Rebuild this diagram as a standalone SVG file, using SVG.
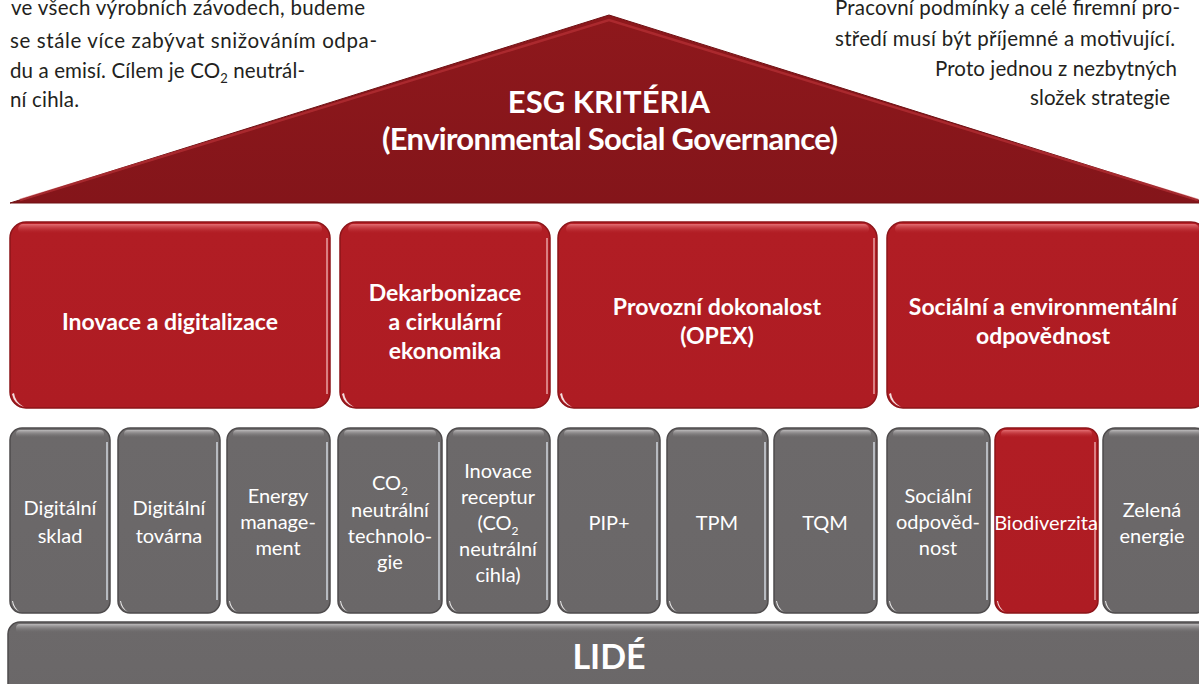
<svg xmlns="http://www.w3.org/2000/svg" width="1199" height="684" viewBox="0 0 1199 684">
<defs>
<linearGradient id="roofG" x1="0" y1="0" x2="0" y2="1">
<stop offset="0" stop-color="#8e181c"/>
<stop offset="1" stop-color="#84151a"/>
</linearGradient>
<linearGradient id="redG" x1="0" y1="0" x2="0" y2="1">
<stop offset="0" stop-color="#b92228"/>
<stop offset="0.05" stop-color="#b11d24"/>
<stop offset="1" stop-color="#ae1c23"/>
</linearGradient>
<linearGradient id="grayG" x1="0" y1="0" x2="0" y2="1">
<stop offset="0" stop-color="#747172"/>
<stop offset="0.05" stop-color="#6c696a"/>
<stop offset="1" stop-color="#6a6768"/>
</linearGradient>
<linearGradient id="redTop" x1="0" y1="0" x2="0" y2="1">
<stop offset="0" stop-color="#e8777b" stop-opacity="0.9"/>
<stop offset="1" stop-color="#b11d24" stop-opacity="0"/>
</linearGradient>
<linearGradient id="grayTop" x1="0" y1="0" x2="0" y2="1">
<stop offset="0" stop-color="#c4c2c3" stop-opacity="0.9"/>
<stop offset="1" stop-color="#6c696a" stop-opacity="0"/>
</linearGradient>
</defs>
<style>
.para{font-family:Lato,"Open Sans",sans-serif;font-size:20.5px;fill:#231f20}
.roof{font-family:Lato,"Open Sans",sans-serif;font-weight:bold;font-size:31px;fill:#fff;text-anchor:middle}
.cat{font-family:Lato,"Open Sans",sans-serif;font-weight:bold;font-size:23px;fill:#fff;text-anchor:middle}
.lbl{font-family:Lato,"Open Sans",sans-serif;font-size:20px;fill:#fff;text-anchor:middle}
.base{font-family:Lato,"Open Sans",sans-serif;font-weight:bold;font-size:34px;fill:#fff;text-anchor:middle}
.rb{fill:url(#redG);stroke:#8c1419;stroke-width:1.5}
.gb{fill:url(#grayG);stroke:#4e4b4c;stroke-width:1.5}
.rt{fill:url(#redTop)}
.gt{fill:url(#grayTop)}
.re{stroke:#e9a0a3;stroke-width:1.5;fill:none}
.ge{stroke:#d0d6de;stroke-width:1.5;fill:none}
.sp{fill:#ffffff;opacity:0.85}
</style>

<g id="text-left">
<text class="para" x="11" y="15" textLength="354">ve všech výrobních závodech, budeme</text>
<text class="para" x="10" y="48" textLength="367">se stále více zabývat snižováním odpa-</text>
<text class="para" x="10" y="78" textLength="295">du a emisí. Cílem je CO<tspan font-size="13" dy="5">2</tspan><tspan dy="-5"> neutrál-</tspan></text>
<text class="para" x="10" y="107" textLength="69">ní cihla.</text>
</g>
<g id="text-right">
<text class="para" x="835" y="15" textLength="345">Pracovní podmínky a celé firemní pro-</text>
<text class="para" x="835" y="46" textLength="340">středí musí být příjemné a motivující.</text>
<text class="para" x="935" y="76" textLength="242">Proto jednou z nezbytných</text>
<text class="para" x="1030" y="105" textLength="140">složek strategie</text>
</g>

<g id="roof">
<polygon points="10,203 609,15 1208,203" fill="url(#roofG)" stroke="#6e1013" stroke-width="1"/>
<polyline points="20,200 609,20 1198,200" fill="none" stroke="#c4393e" stroke-width="2.5" opacity="0.55"/>
<text class="roof" x="609" y="113">ESG KRITÉRIA</text>
<text class="roof" x="610" y="150" textLength="456">(Environmental Social Governance)</text>
</g>

<g id="cat-1">
<rect class="rb" x="10" y="222" width="320" height="186" rx="16"/>
<rect class="rt" x="18" y="224" width="304" height="10" rx="5"/>
<path class="re" d="M327,238 V394"/>
<path class="sp" d="M12,394 q2,10 12,13 q-9,-5 -10,-14 z"/>
<text class="cat" x="170" y="330">Inovace a digitalizace</text>
</g>
<g id="cat-2">
<rect class="rb" x="340" y="222" width="210" height="186" rx="16"/>
<rect class="rt" x="348" y="224" width="194" height="10" rx="5"/>
<path class="re" d="M547,238 V394"/>
<path class="sp" d="M342,394 q2,10 12,13 q-9,-5 -10,-14 z"/>
<text class="cat" x="445" y="301">Dekarbonizace</text>
<text class="cat" x="445" y="330">a cirkulární</text>
<text class="cat" x="445" y="359">ekonomika</text>
</g>
<g id="cat-3">
<rect class="rb" x="558" y="222" width="319" height="186" rx="16"/>
<rect class="rt" x="566" y="224" width="303" height="10" rx="5"/>
<path class="re" d="M874,238 V394"/>
<path class="sp" d="M560,394 q2,10 12,13 q-9,-5 -10,-14 z"/>
<text class="cat" x="717" y="315">Provozní dokonalost</text>
<text class="cat" x="717" y="344">(OPEX)</text>
</g>
<g id="cat-4">
<rect class="rb" x="887" y="222" width="320" height="186" rx="16"/>
<rect class="rt" x="895" y="224" width="304" height="10" rx="5"/>
<path class="sp" d="M889,394 q2,10 12,13 q-9,-5 -10,-14 z"/>
<text class="cat" x="1043" y="315">Sociální a environmentální</text>
<text class="cat" x="1043" y="344">odpovědnost</text>
</g>

<g id="p-1">
<rect class="gb" x="10" y="428" width="100" height="185" rx="12"/>
<rect class="gt" x="16" y="430" width="88" height="8" rx="4"/>
<path class="ge" d="M107,442 V600"/>
<path class="sp" d="M12,601 q1,8 8,11 q-6,-4 -7,-11 z"/>
<text class="lbl" x="60" y="515">Digitální</text>
<text class="lbl" x="60" y="543">sklad</text>
</g>
<g id="p-2">
<rect class="gb" x="118" y="428" width="102" height="185" rx="12"/>
<rect class="gt" x="124" y="430" width="90" height="8" rx="4"/>
<path class="ge" d="M217,442 V600"/>
<path class="sp" d="M120,601 q1,8 8,11 q-6,-4 -7,-11 z"/>
<text class="lbl" x="169" y="515">Digitální</text>
<text class="lbl" x="169" y="543">továrna</text>
</g>
<g id="p-3">
<rect class="gb" x="227" y="428" width="103" height="185" rx="12"/>
<rect class="gt" x="233" y="430" width="91" height="8" rx="4"/>
<path class="ge" d="M327,442 V600"/>
<path class="sp" d="M229,601 q1,8 8,11 q-6,-4 -7,-11 z"/>
<text class="lbl" x="278" y="503">Energy</text>
<text class="lbl" x="278" y="529">manage-</text>
<text class="lbl" x="278" y="555">ment</text>
</g>
<g id="p-4">
<rect class="gb" x="338" y="428" width="104" height="185" rx="12"/>
<rect class="gt" x="344" y="430" width="92" height="8" rx="4"/>
<path class="ge" d="M439,442 V600"/>
<path class="sp" d="M340,601 q1,8 8,11 q-6,-4 -7,-11 z"/>
<text class="lbl" x="390" y="490">CO<tspan font-size="12" dy="5">2</tspan></text>
<text class="lbl" x="390" y="517">neutrální</text>
<text class="lbl" x="390" y="543">technolo-</text>
<text class="lbl" x="390" y="569">gie</text>
</g>
<g id="p-5">
<rect class="gb" x="447" y="428" width="103" height="185" rx="12"/>
<rect class="gt" x="453" y="430" width="91" height="8" rx="4"/>
<path class="ge" d="M547,442 V600"/>
<path class="sp" d="M449,601 q1,8 8,11 q-6,-4 -7,-11 z"/>
<text class="lbl" x="498" y="478">Inovace</text>
<text class="lbl" x="498" y="504">receptur</text>
<text class="lbl" x="498" y="530">(CO<tspan font-size="12" dy="5">2</tspan></text>
<text class="lbl" x="498" y="556">neutrální</text>
<text class="lbl" x="498" y="582">cihla)</text>
</g>
<g id="p-6">
<rect class="gb" x="558" y="428" width="102" height="185" rx="12"/>
<rect class="gt" x="564" y="430" width="90" height="8" rx="4"/>
<path class="ge" d="M657,442 V600"/>
<path class="sp" d="M560,601 q1,8 8,11 q-6,-4 -7,-11 z"/>
<text class="lbl" x="609" y="530">PIP+</text>
</g>
<g id="p-7">
<rect class="gb" x="667" y="428" width="101" height="185" rx="12"/>
<rect class="gt" x="673" y="430" width="89" height="8" rx="4"/>
<path class="ge" d="M765,442 V600"/>
<path class="sp" d="M669,601 q1,8 8,11 q-6,-4 -7,-11 z"/>
<text class="lbl" x="717" y="530">TPM</text>
</g>
<g id="p-8">
<rect class="gb" x="774" y="428" width="103" height="185" rx="12"/>
<rect class="gt" x="780" y="430" width="91" height="8" rx="4"/>
<path class="ge" d="M874,442 V600"/>
<path class="sp" d="M776,601 q1,8 8,11 q-6,-4 -7,-11 z"/>
<text class="lbl" x="825" y="530">TQM</text>
</g>
<g id="p-9">
<rect class="gb" x="887" y="428" width="103" height="185" rx="12"/>
<rect class="gt" x="893" y="430" width="91" height="8" rx="4"/>
<path class="ge" d="M987,442 V600"/>
<path class="sp" d="M889,601 q1,8 8,11 q-6,-4 -7,-11 z"/>
<text class="lbl" x="938" y="503">Sociální</text>
<text class="lbl" x="938" y="529">odpověd-</text>
<text class="lbl" x="938" y="555">nost</text>
</g>
<g id="p-10">
<rect class="rb" x="995" y="428" width="103" height="185" rx="12"/>
<rect class="rt" x="1001" y="430" width="91" height="8" rx="4"/>
<path class="re" d="M1095,442 V600"/>
<path class="sp" d="M997,601 q1,8 8,11 q-6,-4 -7,-11 z"/>
<text class="lbl" x="1046" y="530">Biodiverzita</text>
</g>
<g id="p-11">
<rect class="gb" x="1103" y="428" width="104" height="185" rx="12"/>
<rect class="gt" x="1109" y="430" width="92" height="8" rx="4"/>
<path class="sp" d="M1105,601 q1,8 8,11 q-6,-4 -7,-11 z"/>
<text class="lbl" x="1152" y="517">Zelená</text>
<text class="lbl" x="1152" y="543">energie</text>
</g>

<g id="base">
<rect class="gb" x="8" y="622" width="1205" height="80" rx="12"/>
<rect class="gt" x="16" y="624" width="1190" height="9" rx="4"/>
<text class="base" x="609" y="669">LIDÉ</text>
</g>

<g id="connectors"></g>
</svg>
